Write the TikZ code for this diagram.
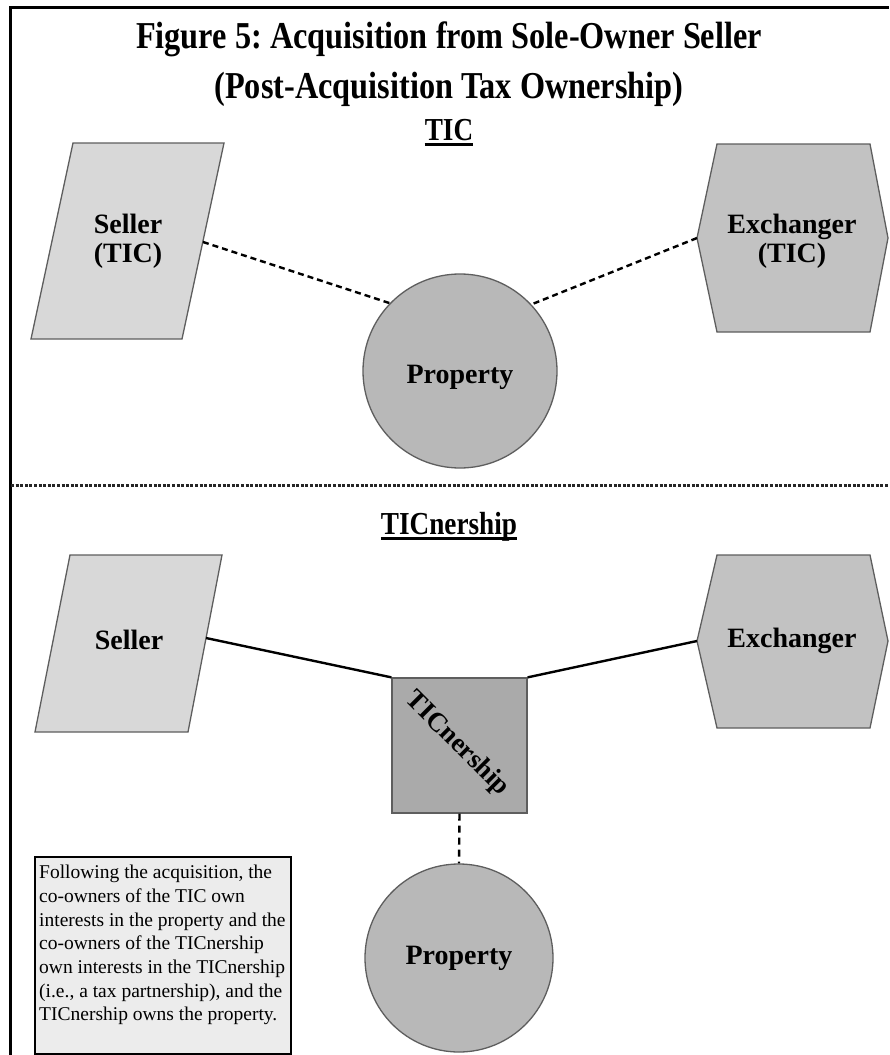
\documentclass[tikz,border=0pt]{standalone}
\usepackage{fontspec}
\setmainfont{Liberation Serif}
\newfontfamily\headfont{Liberation Serif}[FakeStretch=0.85]
\usetikzlibrary{calc}

\definecolor{sellerfill}{HTML}{D8D8D8}
\definecolor{exchfill}{HTML}{C2C2C2}
\definecolor{propfill}{HTML}{B8B8B8}
\definecolor{ticfill}{HTML}{AAAAAA}
\definecolor{notefill}{HTML}{ECECEC}
\definecolor{edgegray}{HTML}{5E5E5E}

\begin{document}
\frenchspacing
\begin{tikzpicture}[x=1pt,y=-1pt,
  shapeline/.style={draw=edgegray, line width=1.3pt},
  lbl/.style={font=\bfseries\fontsize{28}{29}\selectfont, align=center, inner sep=0pt},
  heading/.style={font=\headfont\bfseries\fontsize{32}{34}\selectfont, inner sep=0pt},
  conn/.style={line width=2.4pt},
  dashconn/.style={conn, dash pattern=on 6pt off 4pt},
  propcircle/.style={circle, shapeline, inner sep=0pt, fill=propfill},
]
\useasboundingbox (0,0) rectangle (889,1055);

% frame: top rule and left rule
\draw[line width=3pt] (10,1055) -- (10,7) -- (889,7);

% title
\node[font=\headfont\bfseries\fontsize{38}{50}\selectfont, align=center] (title) at (449,64)
  {Figure 5: Acquisition from Sole-Owner Seller\\(Post-Acquisition Tax Ownership)};

% ---------- upper panel: TIC ----------
\node[heading] (ticHead) at (449,130) {TIC};
\draw[line width=2.5pt] ([yshift=-4pt]ticHead.base west) -- ([yshift=-4pt]ticHead.base east);

\filldraw[shapeline, fill=sellerfill] (73,143) -- (224,143) -- (182,339) -- (31,339) -- cycle;
\node[lbl] (sellerA) at (128,241) {Seller\\(TIC)};
\coordinate (sellerA-r) at (203,242);

\filldraw[shapeline, fill=exchfill] (717,144) -- (870,144) -- (888,238) -- (870,332) -- (717,332) -- (697,238) -- cycle;
\node[lbl] (exchA) at (792,241) {Exchanger\\(TIC)};
\coordinate (exchA-l) at (697,238);

\node[propcircle, minimum size=194pt] (propA) at (460,371) {};
\node[lbl] (propAtext) at (460,377) {Property};

\draw[dashconn] (sellerA-r) -- (propA.136);
\draw[dashconn] (exchA-l) -- (propA.43);

% divider
\draw[line width=3pt, draw=black!85, dash pattern=on 3pt off 1.6pt] (11,485) -- (889,485);

% ---------- lower panel: TICnership ----------
\node[heading] (tcnHead) at (449,527) {TICnership};
\draw[line width=2.5pt] ([yshift=-4pt]tcnHead.base west) -- ([yshift=-4pt]tcnHead.base east);

\filldraw[shapeline, fill=sellerfill] (70,555) -- (222,555) -- (188,732) -- (35,732) -- cycle;
\node[lbl] (sellerB) at (129,640) {Seller};
\coordinate (sellerB-r) at (206,638);

\filldraw[shapeline, fill=exchfill] (717,555) -- (870,555) -- (888,641) -- (870,728) -- (717,728) -- (697,641) -- cycle;
\node[lbl] (exchB) at (792,641) {Exchanger};
\coordinate (exchB-l) at (697,641);

\node[rectangle, shapeline, fill=ticfill, minimum size=135pt, inner sep=0pt] (tcn) at (459.5,745.5) {};
\node[lbl, font=\bfseries\fontsize{27}{28}\selectfont, rotate=-45] (tcntext) at (457,744) {TICnership};

\node[propcircle, minimum size=188pt] (propB) at (459,958) {};
\node[lbl] (propBtext) at (459,958) {Property};

\draw[conn] (sellerB-r) -- (tcn.north west);
\draw[conn] (exchB-l) -- (tcn.north east);
\draw[dashconn, dash pattern=on 7pt off 5pt] (tcn.south) -- (propB.north);

% explanatory note: framed box, then its text
\node[draw=black, line width=1.5pt, fill=notefill, anchor=north west,
      minimum width=256pt, minimum height=197pt, inner sep=0pt] (note) at (34,856) {};
\node[anchor=north west, inner sep=0pt, align=left,
      font=\fontsize{19.5}{23.7}\selectfont] (notetext) at ($(note.north west)+(5,9)$)
  {Following the acquisition, the\\
   co-owners of the TIC own\\
   interests in the property and the\\
   co-owners of the TICnership\\
   own interests in the TICnership\\
   (i.e., a tax partnership), and the\\
   TICnership owns the property.};
\end{tikzpicture}
\end{document}
